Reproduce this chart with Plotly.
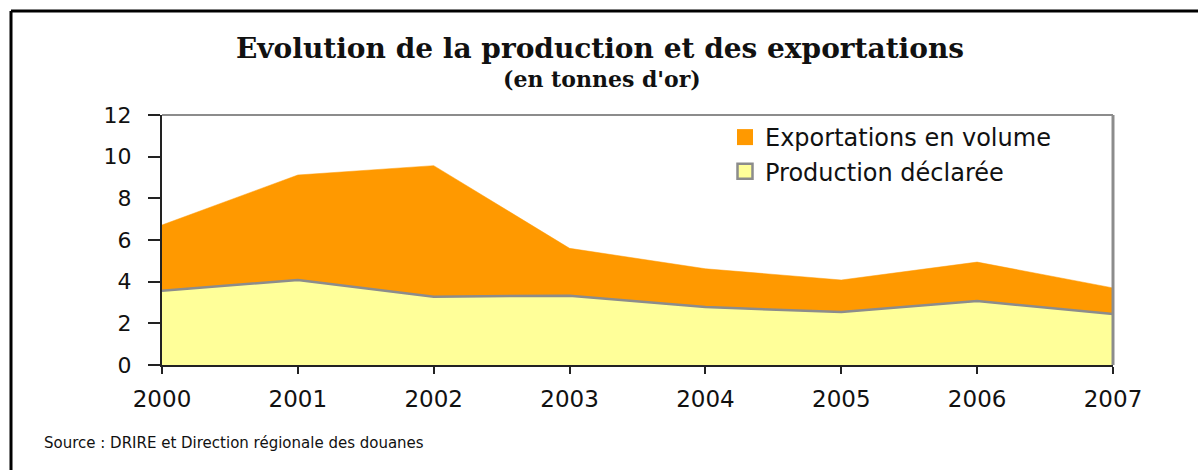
import plotly.graph_objects as go

years = [2000, 2001, 2002, 2003, 2004, 2005, 2006, 2007]
exportations = [6.72, 9.12, 9.57, 5.60, 4.62, 4.08, 4.94, 3.70]
production = [3.57, 4.08, 3.28, 3.33, 2.78, 2.54, 3.07, 2.45]
y_ticks = [0, 2, 4, 6, 8, 10, 12]

ORANGE = "#FF9900"
YELLOW = "#FFFF99"
GREY = "#8C8C8C"
SANS = "DejaVu Sans, Arial, sans-serif"
SERIF = "DejaVu Serif, Times New Roman, serif"

fig = go.Figure()
fig.add_trace(go.Scatter(
    x=years, y=exportations, name="Exportations en volume",
    mode="lines", fill="tozeroy", fillcolor=ORANGE,
    line=dict(color=ORANGE, width=0.5), showlegend=False,
))
fig.add_trace(go.Scatter(
    x=years, y=production, name="Production déclarée",
    mode="lines", fill="tozeroy", fillcolor=YELLOW,
    line=dict(color=GREY, width=2.5), showlegend=False,
))
# legend swatches (square markers, as in the reference legend)
fig.add_trace(go.Scatter(
    x=[None], y=[None], name="Exportations en volume", mode="markers",
    marker=dict(symbol="square", size=17, color=ORANGE, line=dict(width=0)),
))
fig.add_trace(go.Scatter(
    x=[None], y=[None], name="Production déclarée", mode="markers",
    marker=dict(symbol="square", size=15, color=YELLOW, line=dict(width=2.5, color=GREY)),
))

L, R, T, B = 162, 85, 115, 105
W, H = 1198, 470
pw, ph = W - L - R, H - T - B


def px(x):
    return (x - L) / pw


def py(y):
    return (H - B - y) / ph


shapes = [
    dict(type="line", xref="paper", yref="paper", x0=px(11), x1=px(1200), y0=py(11), y1=py(11),
         line=dict(color="black", width=3)),
    dict(type="line", xref="paper", yref="paper", x0=px(11), x1=px(11), y0=py(11), y1=py(472),
         line=dict(color="black", width=3)),
    dict(type="line", xref="paper", yref="paper", x0=0, x1=1, y0=1, y1=1,
         line=dict(color=GREY, width=2)),
    dict(type="line", xref="paper", yref="paper", x0=1, x1=1, y0=0, y1=1,
         line=dict(color=GREY, width=3)),
]

fig.update_layout(
    width=W, height=H,
    margin=dict(l=L, r=R, t=T, b=B),
    paper_bgcolor="white", plot_bgcolor="white",
    shapes=shapes,
    showlegend=True,
    legend=dict(
        x=px(725), y=py(115), xanchor="left", yanchor="top",
        font=dict(family=SANS, size=24, color="#111111"),
        bgcolor="rgba(0,0,0,0)", tracegroupgap=0,
    ),
    annotations=[
        dict(text="<b>Evolution de la production et des exportations</b>",
             xref="paper", yref="paper", x=px(600), y=py(48), xanchor="center", yanchor="middle",
             showarrow=False, font=dict(family=SERIF, size=28, color="#111111")),
        dict(text="<b>(en tonnes d'or)</b>",
             xref="paper", yref="paper", x=px(602), y=py(79), xanchor="center", yanchor="middle",
             showarrow=False, font=dict(family=SERIF, size=22, color="#111111")),
        dict(text="Source : DRIRE et Direction régionale des douanes",
             xref="paper", yref="paper", x=px(42), y=py(443), xanchor="left", yanchor="middle",
             showarrow=False, font=dict(family=SANS, size=15, color="#111111")),
    ],
)

fig.update_xaxes(
    range=[2000, 2007], tickvals=years, ticktext=[str(y) for y in years],
    showgrid=False, zeroline=False,
    showline=True, linecolor="#222222", linewidth=2,
    ticks="outside", ticklen=7, tickwidth=1.5, tickcolor="#222222",
    ticklabelstandoff=5,
    tickfont=dict(family=SANS, size=23, color="#111111"),
)
fig.update_yaxes(
    range=[0, 12], tickvals=y_ticks,
    showgrid=False, zeroline=False,
    showline=True, linecolor="#222222", linewidth=2,
    ticks="outside", ticklen=12, tickwidth=1.5, tickcolor="#222222",
    ticklabelstandoff=12,
    tickfont=dict(family=SANS, size=22, color="#111111"),
)

fig.write_html("out.html", config={"displayModeBar": False},
               post_script="document.body.style.margin='0px';")
